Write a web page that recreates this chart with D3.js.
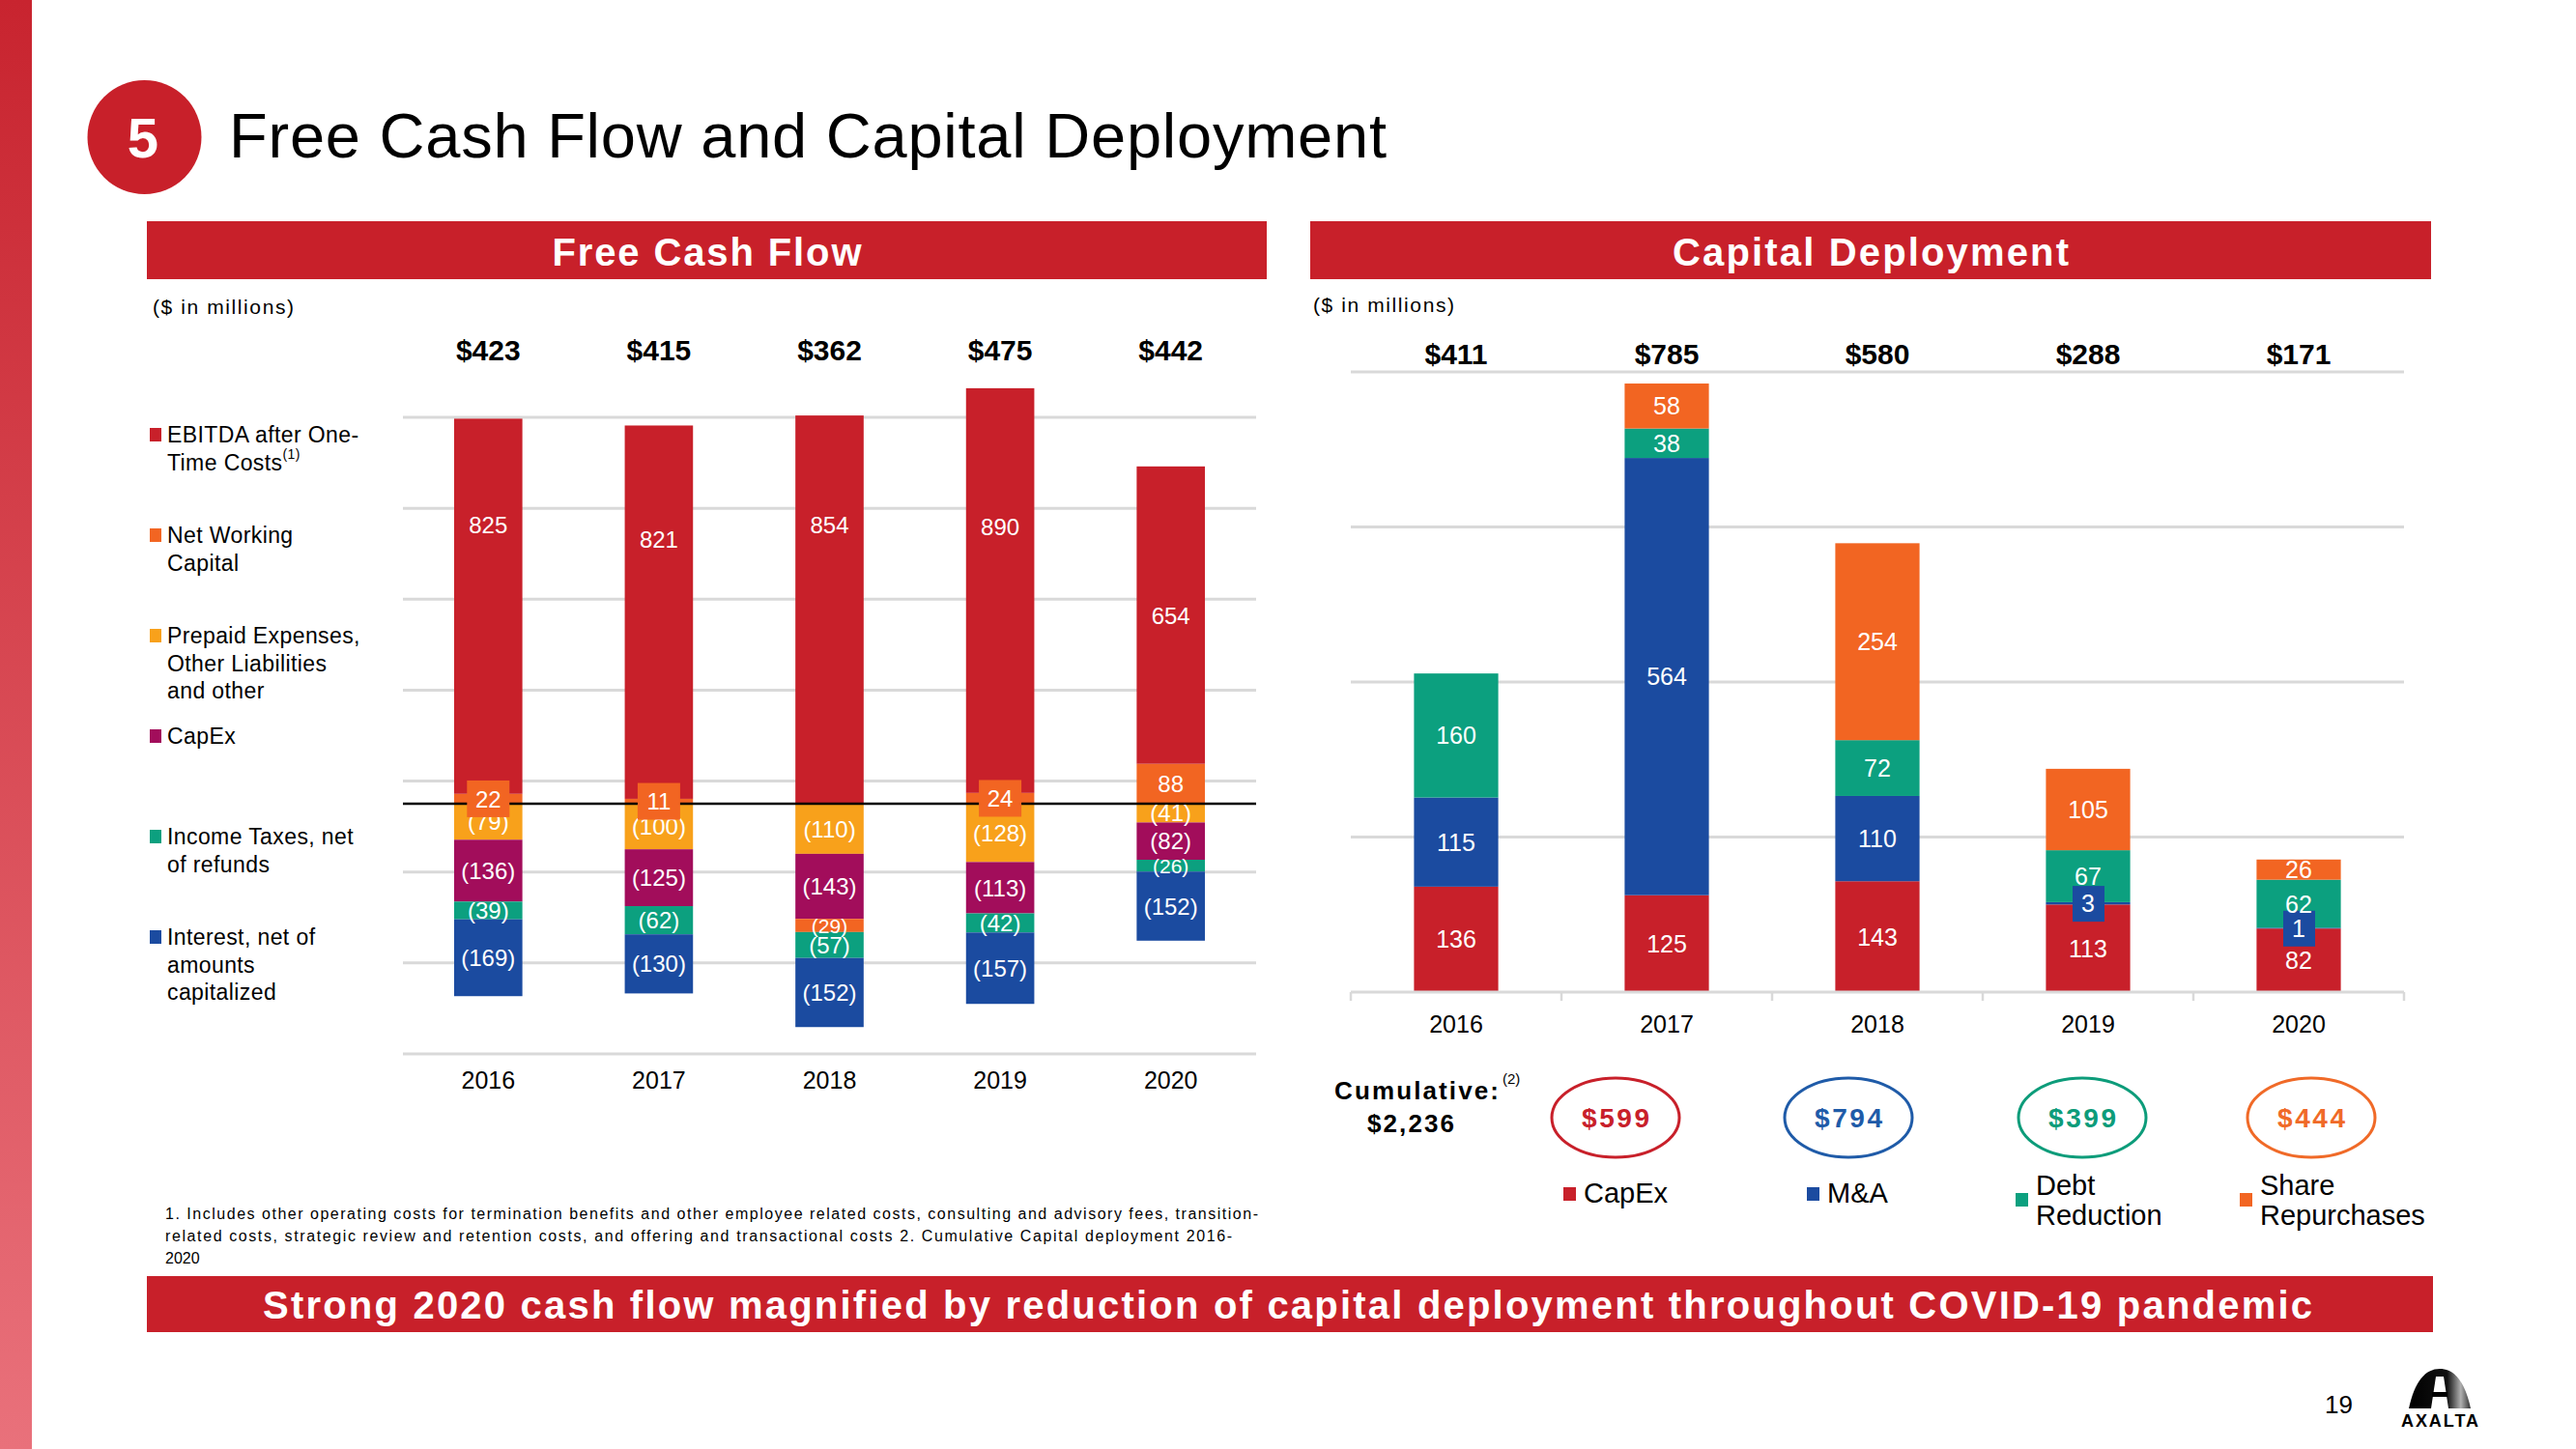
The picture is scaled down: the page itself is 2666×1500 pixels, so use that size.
<!DOCTYPE html>
<html><head><meta charset="utf-8">
<script src="https://cdn.jsdelivr.net/npm/d3@7"></script>
<style>
html,body{margin:0;padding:0;background:#fff;}
svg{display:block;font-family:"Liberation Sans",Arial,Helvetica,sans-serif;}
</style></head><body>
<svg id="chart" width="2666" height="1500"></svg>
<script>
// ---------------- DATA ----------------
const years = ["2016","2017","2018","2019","2020"];
// Free Cash Flow components ($ millions)
const ebitda            = [825, 821, 854, 890, 654];
const netWorkingCapital = [22, 11, -29, 24, 88];
const prepaidOther      = [-79, -100, -110, -128, -41];
const fcfCapex          = [-136, -125, -143, -113, -82];
const incomeTaxes       = [-39, -62, -57, -42, -26];
const interestNet       = [-169, -130, -152, -157, -152];
const fcfTotals         = ["$423","$415","$362","$475","$442"];
// value along the axis at which the EBITDA label sits
const ebitdaLabelAt     = [614, 582, 614, 610, 414];

// Capital Deployment components ($ millions)
const cdCapex    = [136, 125, 143, 113, 82];
const cdMA       = [115, 564, 110, 3, 1];
const cdDebt     = [160, 38, 72, 67, 62];
const cdShares   = [0, 58, 254, 105, 26];
const cdTotals   = ["$411","$785","$580","$288","$171"];

const cumulativeNames  = ["CapEx","M&A","Debt Reduction","Share Repurchases"];
const cumulativeValues = ["$599","$794","$399","$444"];
const cumulativeTotal  = "$2,236";

const fcfGridValues = [-550,-350,-150,50,250,450,650,850];
const cdGridValues  = [200,400,600,800];

// ---------------- STYLE ----------------
const COL = {
  ebitda:"#c8202a", nwc:"#f26522", prepaid:"#f8a11b", capex:"#a20d5b",
  tax:"#0ca07f", interest:"#1b4ba0",
  cdCapex:"#c8202a", cdMA:"#1b4ba0", cdDebt:"#0ca07f", cdShares:"#f26522"
};
const RED = "#c8202a", GRID = "#d9d9d9";
const ringCols = ["#c8202a","#1f5ba8","#0d9c7a","#f06a28"];

const svg = d3.select("#chart");
const defs = svg.append("defs");
const sg = defs.append("linearGradient").attr("id","side").attr("x1",0).attr("y1",0).attr("x2",0).attr("y2",1);
sg.append("stop").attr("offset","0%").attr("stop-color","#c8242f");
sg.append("stop").attr("offset","100%").attr("stop-color","#e9717b");
const lg = defs.append("linearGradient").attr("id","logo").attr("x1",0).attr("y1",0).attr("x2",1).attr("y2",0);
lg.append("stop").attr("offset","0%").attr("stop-color","#000");
lg.append("stop").attr("offset","62%").attr("stop-color","#111");
lg.append("stop").attr("offset","84%").attr("stop-color","#b0b0b0");
lg.append("stop").attr("offset","100%").attr("stop-color","#333");

// side bar
svg.append("rect").attr("x",0).attr("y",0).attr("width",33).attr("height",1500).attr("fill","url(#side)");

// title
svg.append("circle").attr("cx",149.5).attr("cy",142).attr("r",59).attr("fill",RED);
svg.append("text").attr("x",148).attr("y",163).attr("text-anchor","middle")
  .attr("font-size",58).attr("font-weight","bold").attr("fill","#fff").text("5");
svg.append("text").attr("x",237).attr("y",163).attr("font-size",65)
  .attr("textLength",1198).attr("lengthAdjust","spacing").attr("fill","#000")
  .text("Free Cash Flow and Capital Deployment");

// section header bars
function headerBar(x0,x1,label,w){
  svg.append("rect").attr("x",x0).attr("y",229).attr("width",x1-x0).attr("height",60).attr("fill",RED);
  svg.append("text").attr("x",(x0+x1)/2 - w/2).attr("y",275).attr("font-size",40).attr("font-weight","bold")
    .attr("fill","#fff").attr("textLength",w).attr("lengthAdjust","spacing").text(label);
}
headerBar(152,1311,"Free Cash Flow",320);
headerBar(1356,2516,"Capital Deployment",410);

svg.append("text").attr("x",158).attr("y",325).attr("font-size",21).attr("textLength",146).text("($ in millions)");
svg.append("text").attr("x",1359).attr("y",323).attr("font-size",21).attr("textLength",146).text("($ in millions)");

const fmt = v => v < 0 ? `(${-v})` : `${v}`;

// ---------------- FREE CASH FLOW CHART ----------------
const fcfKeys = ["prepaid","capex","nwc","ebitda","tax","interest"];
const fcfRows = years.map((y,i)=>({year:y, prepaid:prepaidOther[i], capex:fcfCapex[i],
  nwc:netWorkingCapital[i], ebitda:ebitda[i], tax:incomeTaxes[i], interest:interestNet[i]}));
const fcfSeries = d3.stack().keys(fcfKeys).offset(d3.stackOffsetDiverging)(fcfRows);

const xL = d3.scaleBand().domain(years).range([417,1300]).paddingInner(0.6).paddingOuter(0.3);
const yL = d3.scaleLinear().domain([-550,850]).range([1091,432]);

const gL = svg.append("g");
gL.selectAll("line.grid").data(fcfGridValues).join("line")
  .attr("x1",417).attr("x2",1300).attr("y1",d=>yL(d)).attr("y2",d=>yL(d))
  .attr("stroke",GRID).attr("stroke-width",3);

gL.selectAll("g.series").data(fcfSeries).join("g")
  .attr("fill",s=>COL[s.key])
  .selectAll("rect").data(s=>s.filter(d=>d[1]!==d[0])).join("rect")
  .attr("x",d=>xL(d.data.year)).attr("width",xL.bandwidth())
  .attr("y",d=>yL(d[1])).attr("height",d=>yL(d[0])-yL(d[1]));

// zero line
gL.append("line").attr("x1",417).attr("x2",1300).attr("y1",yL(0)).attr("y2",yL(0))
  .attr("stroke","#000").attr("stroke-width",2.5);

// labels
const fcfLabels = [];
fcfSeries.forEach(s=>s.forEach((d,i)=>{
  const v = d.data[s.key];
  if (!v) return;
  const yv = s.key==="ebitda" ? ebitdaLabelAt[i] : (d[0]+d[1])/2;
  const h = Math.abs(yL(d[0])-yL(d[1]));
  fcfLabels.push({key:s.key, year:d.data.year, v, yv, h});
}));
const boxed = d => d.v>0 && d.v<30;
const lab = gL.selectAll("g.lab").data(fcfLabels).join("g");
lab.filter(boxed).append("rect")
  .attr("x",d=>xL(d.year)+xL.bandwidth()/2-22).attr("width",44)
  .attr("y",d=>yL(d.yv)-19).attr("height",38).attr("fill",d=>COL[d.key]);
lab.append("text").attr("x",d=>xL(d.year)+xL.bandwidth()/2).attr("y",d=>yL(d.yv))
  .attr("dy","0.36em").attr("text-anchor","middle")
  .attr("font-size",d=>(!boxed(d) && d.h<15) ? 21 : 24).attr("fill","#fff")
  .text(d=>fmt(d.v));

// year axis
const axL = svg.append("g").attr("transform",`translate(0,${yL(-550)})`)
  .call(d3.axisBottom(xL).tickSize(0).tickPadding(18));
axL.select(".domain").remove();
axL.attr("font-family",null).attr("font-size",null);
axL.selectAll("text").attr("font-size",25).attr("fill","#000");

// totals
svg.selectAll("text.fcftot").data(years).join("text")
  .attr("x",d=>xL(d)+xL.bandwidth()/2).attr("y",373).attr("text-anchor","middle")
  .attr("font-size",30).attr("font-weight","bold").text((d,i)=>fcfTotals[i]);

// left legend
const fcfLegend = [
  {key:"ebitda", lines:["EBITDA after One-","Time Costs"], sup:"(1)"},
  {key:"nwc", lines:["Net Working","Capital"]},
  {key:"prepaid", lines:["Prepaid Expenses,","Other Liabilities","and other"]},
  {key:"capex", lines:["CapEx"]},
  {key:"tax", lines:["Income Taxes, net","of refunds"]},
  {key:"interest", lines:["Interest, net of","amounts","capitalized"]}
];
const legL = svg.append("g");
fcfLegend.forEach((it,i)=>{
  const by = 458 + i*104;
  legL.append("rect").attr("x",155).attr("y",by-15).attr("width",12).attr("height",14).attr("fill",COL[it.key]);
  it.lines.forEach((ln,j)=>{
    const t = legL.append("text").attr("x",173).attr("y",by + j*28.5).attr("font-size",23)
      .attr("letter-spacing",0.4).attr("fill","#000").text(ln);
    if (it.sup && j===it.lines.length-1){
      t.append("tspan").attr("font-size",14).attr("dy",-12).text(it.sup);
    }
  });
});

// ---------------- CAPITAL DEPLOYMENT CHART ----------------
const cdKeys = ["cdCapex","cdMA","cdDebt","cdShares"];
const cdRows = years.map((y,i)=>({year:y, cdCapex:cdCapex[i], cdMA:cdMA[i], cdDebt:cdDebt[i], cdShares:cdShares[i]}));
const cdSeries = d3.stack().keys(cdKeys)(cdRows);
const xR = d3.scaleBand().domain(years).range([1398,2488]).paddingInner(0.6).paddingOuter(0.3);
const yR = d3.scaleLinear().domain([0,800]).range([1027,385]);

const gR = svg.append("g");
gR.selectAll("line.grid").data(cdGridValues).join("line")
  .attr("x1",1398).attr("x2",2488).attr("y1",d=>yR(d)).attr("y2",d=>yR(d))
  .attr("stroke",GRID).attr("stroke-width",3);

gR.selectAll("g.series").data(cdSeries).join("g")
  .attr("fill",s=>COL[s.key])
  .selectAll("rect").data(s=>s.filter(d=>d[1]!==d[0])).join("rect")
  .attr("x",d=>xR(d.data.year)).attr("width",xR.bandwidth())
  .attr("y",d=>yR(d[1])).attr("height",d=>yR(d[0])-yR(d[1]));

// baseline with category boundary ticks
const step = xR.step();
gR.append("line").attr("x1",1398).attr("x2",2488).attr("y1",yR(0)).attr("y2",yR(0))
  .attr("stroke",GRID).attr("stroke-width",3);
gR.selectAll("line.tk").data(d3.range(years.length+1)).join("line")
  .attr("x1",i=>xR.range()[0]+i*step).attr("x2",i=>xR.range()[0]+i*step)
  .attr("y1",yR(0)).attr("y2",yR(0)+9).attr("stroke",GRID).attr("stroke-width",2.5);

const cdLabels = [];
cdSeries.forEach(s=>s.forEach(d=>{
  const v = d.data[s.key];
  if (!v) return;
  cdLabels.push({key:s.key, year:d.data.year, v, yv:(d[0]+d[1])/2});
}));
const labR = gR.selectAll("g.lab").data(cdLabels).join("g");
labR.filter(d=>d.v<10).append("rect")
  .attr("x",d=>xR(d.year)+xR.bandwidth()/2-16).attr("width",33)
  .attr("y",d=>yR(d.yv)-18).attr("height",37).attr("fill",d=>COL[d.key]);
labR.append("text").attr("x",d=>xR(d.year)+xR.bandwidth()/2).attr("y",d=>yR(d.yv))
  .attr("dy","0.36em").attr("text-anchor","middle").attr("font-size",25).attr("fill","#fff")
  .text(d=>fmt(d.v));

const axR = svg.append("g").attr("transform",`translate(0,${yR(0)})`)
  .call(d3.axisBottom(xR).tickSize(0).tickPadding(24));
axR.select(".domain").remove();
axR.attr("font-family",null).attr("font-size",null);
axR.selectAll("text").attr("font-size",25).attr("fill","#000");

svg.selectAll("text.cdtot").data(years).join("text")
  .attr("x",d=>xR(d)+xR.bandwidth()/2).attr("y",377).attr("text-anchor","middle")
  .attr("font-size",30).attr("font-weight","bold").text((d,i)=>cdTotals[i]);

// cumulative
svg.append("text").attr("x",1381).attr("y",1138).attr("font-size",26).attr("font-weight","bold")
  .attr("textLength",170).attr("lengthAdjust","spacing").text("Cumulative:");
svg.append("text").attr("x",1555).attr("y",1122).attr("font-size",15).text("(2)");
svg.append("text").attr("x",1415).attr("y",1172).attr("font-size",26).attr("font-weight","bold")
  .attr("textLength",90).attr("lengthAdjust","spacing").text(cumulativeTotal);

const ringX = [1672,1913,2155,2392];
cumulativeValues.forEach((v,i)=>{
  svg.append("ellipse").attr("cx",ringX[i]).attr("cy",1157).attr("rx",66).attr("ry",41)
    .attr("fill","none").attr("stroke",ringCols[i]).attr("stroke-width",3);
  svg.append("text").attr("x",ringX[i]-35).attr("y",1167).attr("font-size",28).attr("font-weight","bold")
    .attr("fill",ringCols[i]).attr("textLength",70).attr("lengthAdjust","spacing").text(v);
});

// capital deployment legend
const cdLegend = [
  {key:"cdCapex", lines:["CapEx"], dx:-54},
  {key:"cdMA", lines:["M&A"], dx:-43},
  {key:"cdDebt", lines:["Debt","Reduction"], dx:-69},
  {key:"cdShares", lines:["Share","Repurchases"], dx:-74}
];
cdLegend.forEach((it,i)=>{
  const x0 = ringX[i] + it.dx;
  const two = it.lines.length>1;
  svg.append("rect").attr("x",x0).attr("y",two?1235:1229).attr("width",13).attr("height",14).attr("fill",COL[it.key]);
  it.lines.forEach((ln,j)=>{
    svg.append("text").attr("x",x0+21).attr("y",(two?1237:1245)+j*31).attr("font-size",29).attr("fill","#000").text(ln);
  });
});

// footnote
const fn = [
  {t:"1. Includes other operating costs for termination benefits and other employee related costs, consulting and advisory fees, transition-", w:1131},
  {t:"related costs, strategic review and retention costs, and offering and transactional costs  2.  Cumulative Capital deployment 2016-", w:1104},
  {t:"2020", w:null}
];
fn.forEach((l,i)=>{
  const t = svg.append("text").attr("x",171).attr("y",1262+i*23).attr("font-size",16).attr("fill","#000").text(l.t);
  if (l.w) t.attr("textLength",l.w).attr("lengthAdjust","spacing");
});

// bottom banner
svg.append("rect").attr("x",152).attr("y",1321).attr("width",2366).attr("height",58).attr("fill",RED);
svg.append("text").attr("x",272).attr("y",1365).attr("font-size",40).attr("font-weight","bold").attr("fill","#fff")
  .attr("textLength",2121).attr("lengthAdjust","spacing")
  .text("Strong 2020 cash flow magnified by reduction of capital deployment throughout COVID-19 pandemic");

// page number + logo
svg.append("text").attr("x",2406).attr("y",1463).attr("font-size",26).text("19");
svg.append("path").attr("d","M2493,1458 C2499,1430 2510,1417 2525,1417 C2540,1417 2551,1430 2557,1458 Z").attr("fill","url(#logo)");
svg.append("path").attr("d","M2521,1425 L2529,1425 L2534,1458 L2516,1458 Z").attr("fill","#fff");
svg.append("rect").attr("x",2517).attr("y",1441).attr("width",16).attr("height",5).attr("fill","#000");
svg.append("text").attr("x",2485).attr("y",1477).attr("font-size",18).attr("font-weight","bold")
  .attr("textLength",80).attr("lengthAdjust","spacing").text("AXALTA");
</script>
</body></html>
